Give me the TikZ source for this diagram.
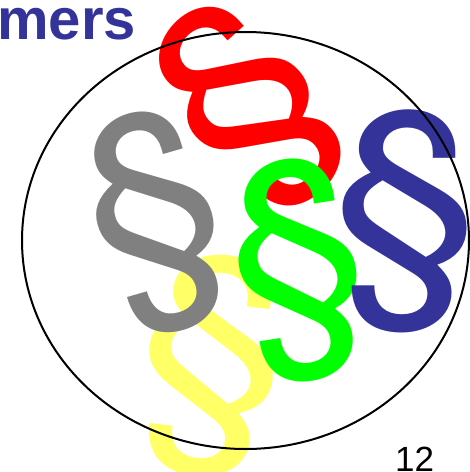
\documentclass[tikz,border=0pt]{standalone}
\usepackage{fontspec}
\setmainfont{Liberation Sans}
\newfontfamily\secfont{TeX Gyre Heros}
\definecolor{secblue}{HTML}{333399}
\definecolor{secgray}{HTML}{808080}
\definecolor{secgreen}{HTML}{00FF00}
\definecolor{secred}{HTML}{FF0000}
\definecolor{secyellow}{HTML}{FFFF66}
\begin{document}
\begin{tikzpicture}[x=1pt,y=-1pt,
  sec/.style={inner sep=0pt, font=\fontsize{237}{237}\secfont},
  title/.style={inner sep=0pt, anchor=base west, text=secblue, font=\fontsize{58}{58}\selectfont\bfseries},
  pagenum/.style={inner sep=0pt, anchor=base west, font=\fontsize{35}{35}\selectfont},
  ring/.style={draw=black, line width=2pt}]
\useasboundingbox (0,0) rectangle (470,472);
\node[title] (t) at (-3,39) {mers};
\node[sec, text=secyellow, rotate=-7] (y) at (212,366) {\scalebox{1.15}[1]{§}};
\node[sec, text=secgray, rotate=16] (g) at (157,222) {\scalebox{1.03}[1]{§}};
\node[sec, text=secred, rotate=42] (r) at (250,106) {\scalebox{1.1}[1]{§}};
\node[sec, text=secgreen, rotate=9] (gr) at (299,270) {\scalebox{1.05}[1]{§}};
\node[sec, text=secblue, rotate=0] (b) at (406,221) {\scalebox{1.13}[1]{§}};
\draw[ring] (245.5,240.5) ellipse [x radius=223.5, y radius=208.5];
\node[pagenum] (n) at (395,471.5) {12};
\end{tikzpicture}
\end{document}
